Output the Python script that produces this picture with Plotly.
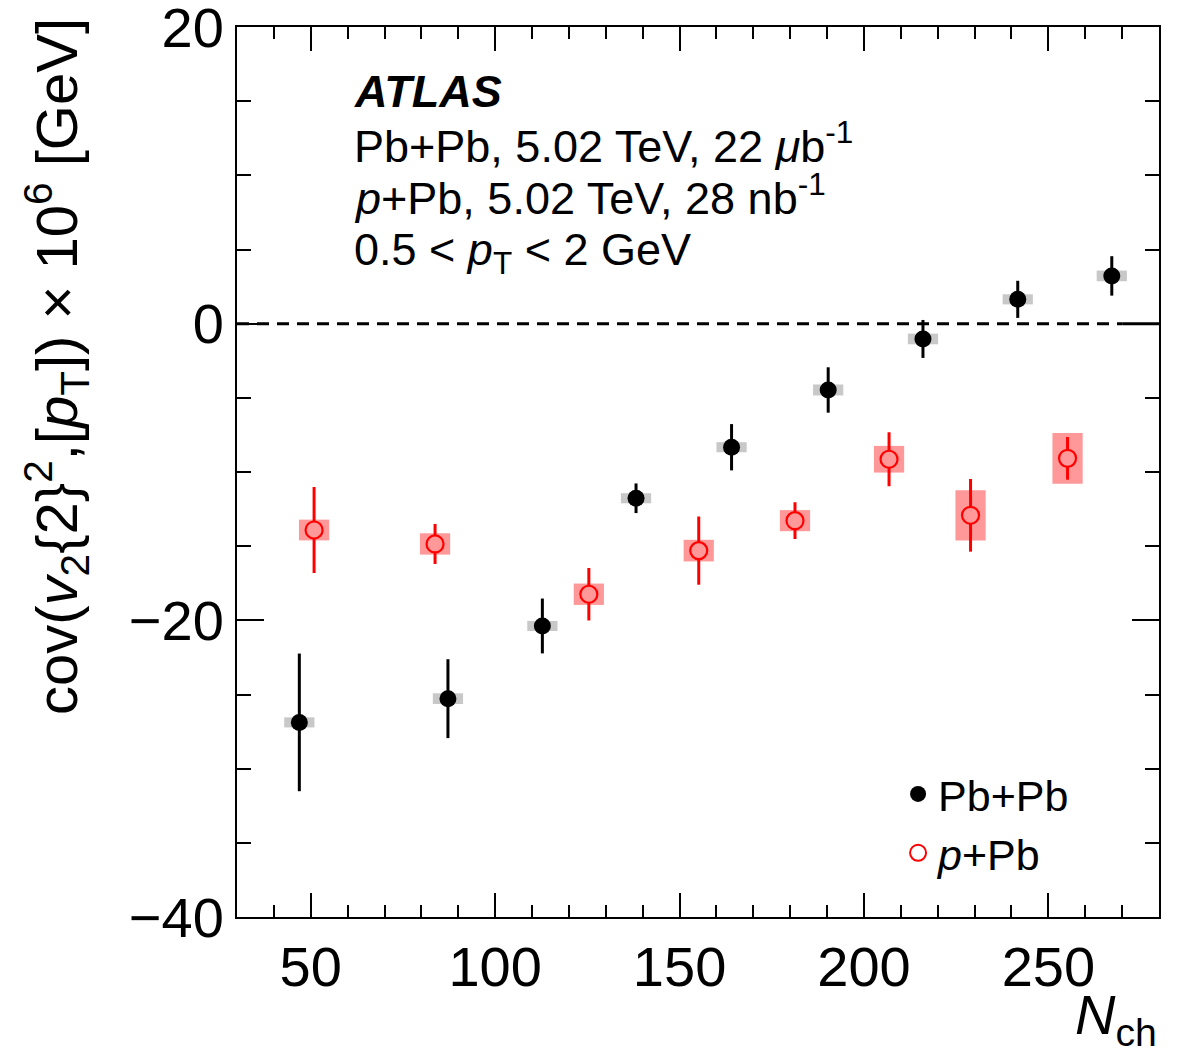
import plotly.graph_objects as go

# ---------------- data ----------------
pbpb_nch = [46.9, 87.2, 112.8, 138.2, 164.1, 190.3, 216.0, 241.7, 267.2]
pbpb_cov = [-26.88, -25.28, -20.38, -11.77, -8.33, -4.47, -1.03, 1.64, 3.22]
pbpb_stat = [4.64, 2.66, 1.85, 1.0, 1.56, 1.53, 1.28, 1.25, 1.33]
pbpb_sys = [0.34, 0.36, 0.34, 0.34, 0.34, 0.37, 0.36, 0.34, 0.36]

ppb_nch = [50.9, 83.7, 125.4, 155.2, 181.3, 206.8, 228.9, 255.2]
ppb_cov = [-13.91, -14.85, -18.24, -15.30, -13.28, -9.14, -12.92, -9.08]
ppb_stat = [2.9, 1.35, 1.77, 2.3, 1.24, 1.82, 2.45, 1.44]
ppb_sys = [0.70, 0.72, 0.72, 0.73, 0.71, 0.90, 1.69, 1.71]

x_ticks = [50, 100, 150, 200, 250]
y_ticks = [-40, -20, 0, 20]

# ---------------- style ----------------
FONT = "Liberation Sans"
BOX_HW = 4.1
GRAY = "rgb(200,200,200)"
PINK = "rgb(255,153,153)"

fig = go.Figure()

shapes = []
for x, y, s in zip(pbpb_nch, pbpb_cov, pbpb_sys):
    shapes.append(dict(type="rect", xref="x", yref="y", x0=x - BOX_HW, x1=x + BOX_HW,
                       y0=y - s, y1=y + s, fillcolor=GRAY, line=dict(width=0), layer="below"))
for x, y, s in zip(ppb_nch, ppb_cov, ppb_sys):
    shapes.append(dict(type="rect", xref="x", yref="y", x0=x - BOX_HW, x1=x + BOX_HW,
                       y0=y - s, y1=y + s, fillcolor=PINK, line=dict(width=0), layer="below"))
# zero line
shapes.append(dict(type="line", xref="x", yref="y", x0=30, x1=270, y0=0, y1=0,
                   line=dict(color="black", width=3, dash="12px,8px"), layer="below"))
shapes.append(dict(type="line", xref="x", yref="y", x0=270, x1=280, y0=0, y1=0,
                   line=dict(color="black", width=3), layer="below"))

fig.add_trace(go.Scatter(
    x=pbpb_nch, y=pbpb_cov, mode="markers", showlegend=False,
    marker=dict(symbol="circle", size=17, color="black"),
    error_y=dict(type="data", array=pbpb_stat, color="black", thickness=3, width=0),
))
fig.add_trace(go.Scatter(
    x=ppb_nch, y=ppb_cov, mode="markers", showlegend=False,
    marker=dict(symbol="circle", size=17, color=PINK, line=dict(color="red", width=2.2)),
    error_y=dict(type="data", array=ppb_stat, color="red", thickness=3, width=0),
))
# legend entries
fig.add_trace(go.Scatter(x=[None], y=[None], mode="markers", name="Pb+Pb",
                         marker=dict(symbol="circle", size=17, color="black")))
fig.add_trace(go.Scatter(x=[None], y=[None], mode="markers", name="<i>p</i>+Pb",
                         marker=dict(symbol="circle-open", size=17, color="red",
                                     line=dict(width=2))))

TX = 0.125
ann = []
ann.append(dict(text="<b><i>ATLAS</i></b>", x=TX, y=0.927, xref="paper", yref="paper",
                xanchor="left", yanchor="middle", showarrow=False, font=dict(size=45)))
ann.append(dict(text="Pb+Pb, 5.02 TeV, 22 <i>μ</i>b<sup>-1</sup>", x=TX, y=0.870,
                xref="paper", yref="paper", xanchor="left", yanchor="middle", showarrow=False,
                font=dict(size=45)))
ann.append(dict(text="<i>p</i>+Pb, 5.02 TeV, 28 nb<sup>-1</sup>", x=TX, y=0.811,
                xref="paper", yref="paper", xanchor="left", yanchor="middle", showarrow=False,
                font=dict(size=45)))
ann.append(dict(text="0.5 < <i>p</i><sub>T</sub> < 2 GeV", x=TX, y=0.747,
                xref="paper", yref="paper", xanchor="left", yanchor="middle", showarrow=False,
                font=dict(size=45)))
ann.append(dict(text="<i>N</i><sub>ch</sub>", x=1.0, y=-0.114, xref="paper", yref="paper",
                xanchor="right", yanchor="middle", showarrow=False, font=dict(size=56)))
ann.append(dict(text="cov(<i>v</i><sub>2</sub>{2}<sup>2</sup>,[<i>p</i><sub>T</sub>]) × 10<sup>6</sup> [GeV]",
                x=-0.195, y=1.012, xref="paper", yref="paper", xanchor="center", yanchor="top",
                textangle=-90, showarrow=False, font=dict(size=58)))

fig.update_layout(
    width=1182, height=1059,
    margin=dict(l=237, r=23, t=27, b=142),
    paper_bgcolor="white", plot_bgcolor="white",
    font=dict(family=FONT, color="black", size=42),
    shapes=shapes, annotations=ann,
    legend=dict(x=0.717, y=0.177, xanchor="left", yanchor="top", bgcolor="rgba(0,0,0,0)",
                font=dict(size=43), itemsizing="trace", tracegroupgap=0),
    xaxis=dict(range=[30, 280], tickvals=x_ticks, ticks="inside", ticklen=24, tickwidth=2,
               tickcolor="black", showline=True, linecolor="black", linewidth=2, mirror="ticks",
               showgrid=False, zeroline=False, tickfont=dict(size=56),
               ticklabeloverflow="allow", automargin=False,
               minor=dict(dtick=10, tick0=0, ticks="inside", ticklen=12, tickwidth=2,
                          tickcolor="black", showgrid=False)),
    yaxis=dict(range=[-40, 20], tickvals=y_ticks, ticks="inside", ticklen=27, tickwidth=2,
               tickcolor="black", showline=True, linecolor="black", linewidth=2, mirror="ticks",
               showgrid=False, zeroline=False, tickfont=dict(size=56),
               ticklabeloverflow="allow", automargin=False,
               minor=dict(dtick=5, tick0=0, ticks="inside", ticklen=14, tickwidth=2,
                          tickcolor="black", showgrid=False)),
)

fig.write_html("out.html")
